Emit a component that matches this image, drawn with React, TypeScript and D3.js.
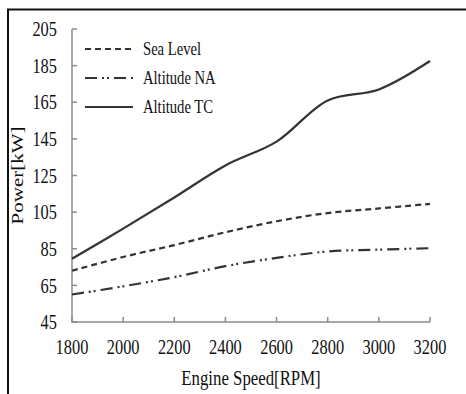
import React from "react";
import * as d3 from "d3";

// engine speed (RPM) and power (kW)
const rpm = [1800, 2000, 2200, 2400, 2600, 2800, 3000, 3200];
const seaLevel = [73, 80.5, 87, 94, 100, 104.5, 107, 109.5];
const altitudeNA = [60, 64.5, 69.5, 75.5, 80, 83.5, 84.5, 85.3];
const altitudeTC = [79.5, 96, 113, 130.5, 143.5, 166, 172, 187.5];

const xTicks = [1800, 2000, 2200, 2400, 2600, 2800, 3000, 3200];
const yTicks = [45, 65, 85, 105, 125, 145, 165, 185, 205];

const seriesNames = ["Sea Level", "Altitude NA", "Altitude TC"];
const seriesValues = [seaLevel, altitudeNA, altitudeTC];
const seriesDash = ["6 4", "12 5 2 3 2 5", "none"];

const W = 466;
const H = 394;
const plot = { left: 72, right: 430, top: 29, bottom: 322 };
const font = "'Liberation Serif', 'Times New Roman', serif";
const squeeze = 0.78;

export default function App() {
  const x = d3.scaleLinear().domain([1800, 3200]).range([plot.left, plot.right]);
  const y = d3.scaleLinear().domain([45, 205]).range([plot.bottom, plot.top]);

  const line = d3
    .line<[number, number]>()
    .x((d) => x(d[0]))
    .y((d) => y(d[1]))
    .curve(d3.curveCatmullRom.alpha(0.5));

  const axisColor = "#8a8a8a";
  const tick = 5;

  return (
    <svg width={W} height={H} style={{ position: "absolute", left: 0, top: 0, background: "#fff" }}>
      <rect x={8} y={9.5} width={600} height={600} fill="none" stroke="#111" strokeWidth={2} />

      {/* axes */}
      <path
        d={`M${plot.left},${plot.top} V${plot.bottom} H${plot.right}`}
        fill="none"
        stroke={axisColor}
        strokeWidth={1.5}
      />
      {yTicks.map((t) => (
        <g key={"y" + t} transform={`translate(${plot.left},${y(t)})`}>
          <line x1={0} x2={tick} stroke={axisColor} strokeWidth={1.5} />
          <text
            transform={`translate(-15,0) scale(${squeeze},1)`}
            textAnchor="end"
            dominantBaseline="central"
            fontFamily={font}
            fontSize={21}
            fill="#111"
          >
            {t}
          </text>
        </g>
      ))}
      {xTicks.map((t) => (
        <g key={"x" + t} transform={`translate(${x(t)},${plot.bottom})`}>
          <line y1={0} y2={-tick} stroke={axisColor} strokeWidth={1.5} />
          <text
            transform={`translate(0,32) scale(${squeeze},1)`}
            textAnchor="middle"
            fontFamily={font}
            fontSize={21}
            fill="#111"
          >
            {t}
          </text>
        </g>
      ))}

      <text
        transform={`translate(${(plot.left + plot.right) / 2},385) scale(0.8,1)`}
        textAnchor="middle"
        fontFamily={font}
        fontSize={21}
        fill="#111"
      >
        Engine Speed[RPM]
      </text>
      <text
        transform={`translate(23,${(plot.top + plot.bottom) / 2}) scale(0.8,1) rotate(-90)`}
        textAnchor="middle"
        fontFamily={font}
        fontSize={21}
        fill="#111"
      >
        Power[kW]
      </text>

      {/* series */}
      {seriesValues.map((vals, i) => (
        <path
          key={seriesNames[i]}
          d={line(rpm.map((r, j) => [r, vals[j]] as [number, number])) || ""}
          fill="none"
          stroke="#333"
          strokeWidth={2.2}
          strokeDasharray={seriesDash[i]}
        />
      ))}

      {/* legend */}
      {seriesNames.map((name, i) => (
        <g key={"lg" + name} transform={`translate(85,${49 + i * 29})`}>
          <line x1={0} x2={48} stroke="#333" strokeWidth={2.2} strokeDasharray={seriesDash[i]} />
          <text
            transform={`translate(58,6) scale(0.77,1)`}
            fontFamily={font}
            fontSize={19}
            fill="#111"
          >
            {name}
          </text>
        </g>
      ))}
    </svg>
  );
}
